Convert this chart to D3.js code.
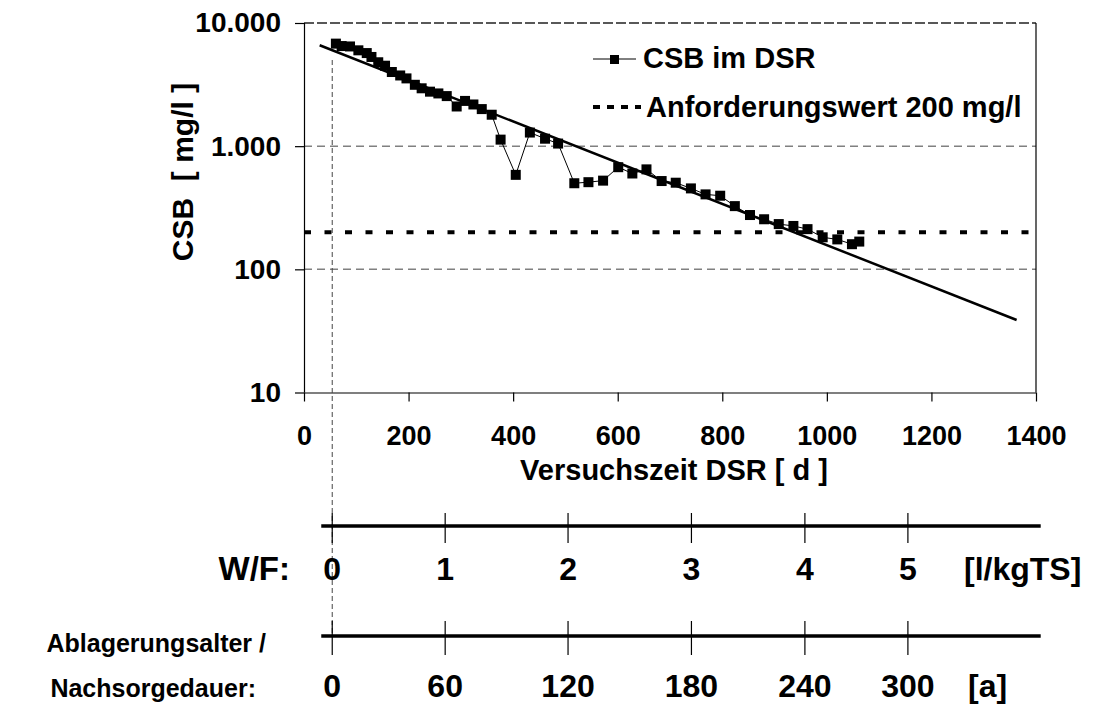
<!DOCTYPE html>
<html><head><meta charset="utf-8">
<script src="https://cdn.jsdelivr.net/npm/d3@7"></script>
<style>
body{margin:0;background:#fff}
text{font-family:"Liberation Sans",Arial,sans-serif;font-weight:bold;fill:#000}
</style>
</head><body>
<svg id="c" width="1103" height="706"></svg>
<script>
// ---- data ----
const days = [61,72,88,104,120,129,142,155,168,184,196,212,225,241,257,273,292,308,324,340,359,
  376,405,432,461,486,517,544,572,601,628,655,684,711,740,768,796,824,853,880,908,936,963,992,1020,1048,1062];
const csb = [6800,6500,6450,6000,5700,5300,4800,4500,4000,3750,3550,3150,2950,2770,2680,2550,2100,2330,2180,2000,1800,
  1130,585,1290,1150,1050,500,510,525,675,600,648,521,505,454,406,396,326,276,255,233,225,212,182,175,160,168];
const trendDays = [30, 1363];
const trendCsb = [6600, 38.8];
const limitValue = 200;
const startDay = 54;
const xTicks = [0,200,400,600,800,1000,1200,1400];
const yTicks = [10,100,1000,10000];
const yTickLabels = ["10","100","1.000","10.000"];
const scaleTickDays = [54,270,505,741,958,1155];
const scaleExtentDays = [33,1409];
const wfLabels = ["0","1","2","3","4","5"];
const ageLabels = ["0","60","120","180","240","300"];

// ---- scales ----
const svg = d3.select("#c");
const x = d3.scaleLinear().domain([0,1400]).range([304,1036]);
const y = d3.scaleLog().domain([10,10000]).range([392.5,23]);

// gridlines
svg.append("g").selectAll("line").data(yTicks.filter(d=>d>10)).join("line")
  .attr("x1",x(0)).attr("x2",x(1400)).attr("y1",d=>y(d)).attr("y2",d=>y(d))
  .attr("stroke",d=>d===10000?"#222":"#808080").attr("stroke-width",1.5)
  .attr("stroke-dasharray",d=>d===10000?"10,3":"8,5");
// right border
svg.append("line").attr("x1",x(1400)).attr("x2",x(1400)).attr("y1",y(10000)).attr("y2",y(10))
  .attr("stroke","#000").attr("stroke-width",1.2);

// axes
const yAxis = svg.append("g").attr("transform",`translate(${x(0)},0)`)
  .call(d3.axisLeft(y).tickValues(yTicks).tickFormat((d,i)=>yTickLabels[i]).tickSize(9).tickPadding(14));
const xAxis = svg.append("g").attr("transform",`translate(0,${y(10)})`)
  .call(d3.axisBottom(x).tickValues(xTicks).tickFormat(d3.format("d")).tickSize(9).tickPadding(24));
[yAxis,xAxis].forEach(g=>{
  g.select(".domain").attr("stroke","#000").attr("stroke-width",1.2);
  g.selectAll(".tick line").attr("stroke","#000").attr("stroke-width",1.2);
  g.selectAll("text").attr("font-size",28).attr("font-family",null).attr("fill","#000");
});
xAxis.selectAll("text").attr("font-size",27);
xAxis.select(".domain").attr("d",`M${x(0)},0.5H${x(1400)}`);
yAxis.select(".domain").attr("d",`M0.5,${y(10)}V${y(10000)}`);

// vertical start line
svg.append("line").attr("x1",x(startDay)).attr("x2",x(startDay)).attr("y1",60).attr("y2",636)
  .attr("stroke","#444").attr("stroke-width",1).attr("stroke-dasharray","5,3");

// limit line
svg.append("line").attr("x1",x(0)).attr("x2",x(1400)).attr("y1",y(limitValue)).attr("y2",y(limitValue))
  .attr("stroke","#000").attr("stroke-width",4).attr("stroke-dasharray","7,13.5");

// trend line
svg.append("path").datum(trendDays.map((d,i)=>[d,trendCsb[i]]))
  .attr("d",d3.line().x(d=>x(d[0])).y(d=>y(d[1])))
  .attr("fill","none").attr("stroke","#000").attr("stroke-width",2.5);

// data line + markers
const pts = days.map((d,i)=>[d,csb[i]]);
svg.append("path").datum(pts).attr("d",d3.line().x(d=>x(d[0])).y(d=>y(d[1])))
  .attr("fill","none").attr("stroke","#000").attr("stroke-width",1);
svg.append("g").selectAll("rect").data(pts).join("rect")
  .attr("x",d=>x(d[0])-5).attr("y",d=>y(d[1])-5).attr("width",10).attr("height",10).attr("fill","#000");

// axis titles
svg.append("text").attr("x",674).attr("y",480).attr("text-anchor","middle").attr("font-size",29)
  .text("Versuchszeit DSR [ d ]");
svg.append("text").attr("transform","translate(193,172) rotate(-90)").attr("text-anchor","middle")
  .attr("font-size",30).attr("xml:space","preserve").style("white-space","pre").text("CSB  [ mg/l ]");

// legend
const lg = svg.append("g");
lg.append("line").attr("x1",593).attr("x2",636).attr("y1",59).attr("y2",59).attr("stroke","#000").attr("stroke-width",1);
lg.append("rect").attr("x",610).attr("y",55).attr("width",9).attr("height",9).attr("fill","#000");
lg.append("text").attr("x",643).attr("y",68).attr("font-size",29).text("CSB im DSR");
lg.append("line").attr("x1",593).attr("x2",641).attr("y1",107).attr("y2",107).attr("stroke","#000")
  .attr("stroke-width",4).attr("stroke-dasharray","7,7");
lg.append("text").attr("x",646).attr("y",117).attr("font-size",29).text("Anforderungswert 200 mg/l");

// lower scales
function drawScale(yLine, tTop, tBot, labels, labelY, unit, unitX){
  const g = svg.append("g");
  g.append("line").attr("x1",x(scaleExtentDays[0])).attr("x2",x(scaleExtentDays[1]))
    .attr("y1",yLine).attr("y2",yLine).attr("stroke","#000").attr("stroke-width",3.5);
  g.selectAll("line.t").data(scaleTickDays).join("line").attr("class","t")
    .attr("x1",d=>x(d)).attr("x2",d=>x(d)).attr("y1",tTop).attr("y2",tBot)
    .attr("stroke","#000").attr("stroke-width",1.2);
  g.selectAll("text.l").data(scaleTickDays).join("text").attr("class","l")
    .attr("x",d=>x(d)).attr("y",labelY).attr("text-anchor","middle").attr("font-size",32)
    .text((d,i)=>labels[i]);
  g.append("text").attr("x",unitX).attr("y",labelY).attr("font-size",32).text(unit);
}
drawScale(526, 513, 543, wfLabels, 580, "[l/kgTS]", 964);
drawScale(636, 621, 655, ageLabels, 697, "[a]", 968);
svg.append("text").attr("x",290).attr("y",580).attr("text-anchor","end").attr("font-size",33).text("W/F:");
svg.append("text").attr("x",266).attr("y",652).attr("text-anchor","end").attr("font-size",25).text("Ablagerungsalter /");
svg.append("text").attr("x",256).attr("y",697).attr("text-anchor","end").attr("font-size",25).text("Nachsorgedauer:");
</script>
</body></html>
